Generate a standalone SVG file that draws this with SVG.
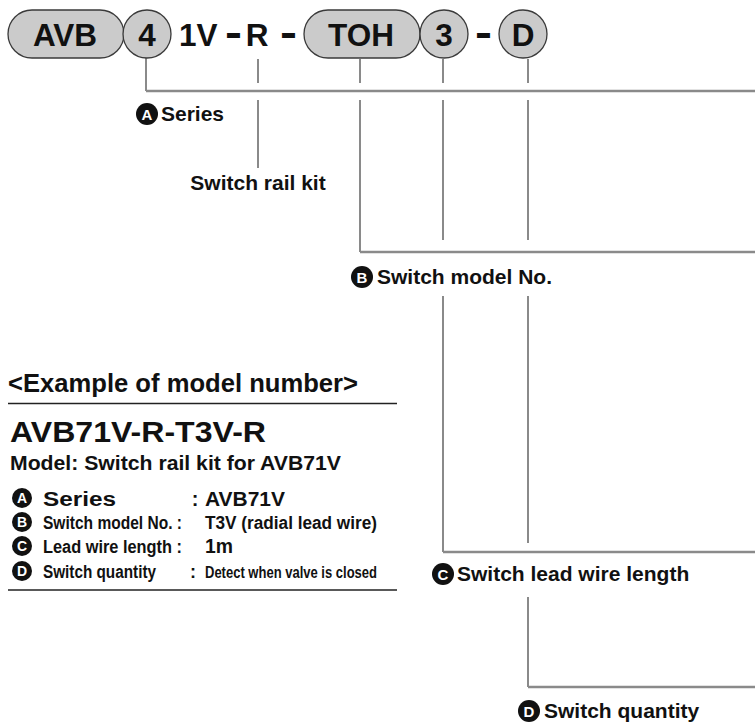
<svg xmlns="http://www.w3.org/2000/svg" width="755" height="722" viewBox="0 0 755 722">
<style>
.pill{fill:#cbcbcb;stroke:#3a3a3a;stroke-width:1.3}
.big{font-family:"Liberation Sans",Arial,sans-serif;font-weight:bold;font-size:31.5px;fill:#111}
.dash{font-family:"Liberation Sans",Arial,sans-serif;font-weight:bold;font-size:34px;fill:#111;text-anchor:middle}
.lbl{font-family:"Liberation Sans",Arial,sans-serif;font-weight:bold;font-size:21px;fill:#111}
.conn{fill:none;stroke:#8a8a8a;stroke-width:2}
.hz{fill:none;stroke:#8a8a8a;stroke-width:2.6}
.mk{fill:#111}
.mkt{font-family:"Liberation Sans",Arial,sans-serif;font-weight:bold;font-size:15px;fill:#fff;text-anchor:middle}
.mks{font-family:"Liberation Sans",Arial,sans-serif;font-weight:bold;font-size:14px;fill:#fff;text-anchor:middle}
.t{font-family:"Liberation Sans",Arial,sans-serif;font-weight:bold;fill:#111}
.rule{stroke:#222;stroke-width:1.5}
</style>

<g id="connectors">
  <path class="conn" d="M146,58 V91"/>
  <path class="hz" d="M146,91 H755"/>
  <path class="conn" d="M258,59 V83 M258,100 V168"/>
  <path class="conn" d="M360,59 V83 M360,100 V252"/>
  <path class="hz" d="M360,252 H755"/>
  <path class="conn" d="M443,59 V83 M443,100 V240 M443,296 V552"/>
  <path class="hz" d="M443,552 H755"/>
  <path class="conn" d="M528,59 V83 M528,100 V240 M528,296 V543 M528,597 V687"/>
  <path class="hz" d="M528,687 H755"/>
</g>

<g id="code-AVB">
  <rect class="pill" x="8" y="10" width="116" height="48" rx="24" ry="24"/>
  <text class="big" x="65" y="45.5" text-anchor="middle">AVB</text>
</g>
<g id="code-4">
  <circle class="pill" cx="147" cy="34" r="24"/>
  <text class="big" x="147" y="45.5" text-anchor="middle">4</text>
</g>
<g id="code-1V">
  <text class="big" x="179" y="45.5">1V</text>
  <text class="dash" transform="translate(233.5,46.5) scale(1.5,1.25)">-</text>
</g>
<g id="code-R">
  <text class="big" x="257" y="45.5" text-anchor="middle">R</text>
  <text class="dash" transform="translate(288.5,46.5) scale(1.5,1.25)">-</text>
</g>
<g id="code-TOH">
  <rect class="pill" x="304" y="10" width="116" height="48" rx="24" ry="24"/>
  <text class="big" x="361" y="45.5" text-anchor="middle">TOH</text>
</g>
<g id="code-3">
  <circle class="pill" cx="444" cy="34" r="24"/>
  <text class="big" x="444" y="45.5" text-anchor="middle">3</text>
  <text class="dash" transform="translate(483.5,46.5) scale(1.5,1.25)">-</text>
</g>
<g id="code-D">
  <circle class="pill" cx="523" cy="34" r="24"/>
  <text class="big" x="523" y="45.5" text-anchor="middle">D</text>
</g>

<g id="label-series">
  <circle class="mk" cx="147" cy="114" r="11"/>
  <text class="mkt" x="147" y="119.5">A</text>
  <text class="lbl" x="161" y="121">Series</text>
</g>
<g id="label-rail">
  <text class="lbl" x="258" y="190" text-anchor="middle">Switch rail kit</text>
</g>
<g id="label-model">
  <circle class="mk" cx="362" cy="277" r="11"/>
  <text class="mkt" x="362" y="282.5">B</text>
  <text class="lbl" x="377" y="284">Switch model No.</text>
</g>
<g id="label-lead">
  <circle class="mk" cx="443" cy="574" r="11"/>
  <text class="mkt" x="443" y="579.5">C</text>
  <text class="lbl" x="457" y="581">Switch lead wire length</text>
</g>
<g id="label-qty">
  <circle class="mk" cx="529" cy="711" r="11"/>
  <text class="mkt" x="529" y="716.5">D</text>
  <text class="lbl" x="544" y="718">Switch quantity</text>
</g>

<g id="example">
  <text class="t" x="8" y="392" font-size="26" textLength="350" lengthAdjust="spacingAndGlyphs">&lt;Example of model number&gt;</text>
  <line class="rule" x1="8" y1="403.5" x2="397" y2="403.5"/>
  <text class="t" x="10" y="442" font-size="29" textLength="256" lengthAdjust="spacingAndGlyphs">AVB71V-R-T3V-R</text>
  <text class="t" x="10" y="470" font-size="19.5" textLength="331" lengthAdjust="spacingAndGlyphs">Model: Switch rail kit for AVB71V</text>

  <circle class="mk" cx="22" cy="498" r="10"/>
  <text class="mks" x="22" y="503">A</text>
  <text class="t" x="43" y="505.5" font-size="20" textLength="73" lengthAdjust="spacingAndGlyphs">Series</text>
  <text class="t" x="195" y="505.5" font-size="20" text-anchor="middle">:</text>
  <text class="t" x="205" y="505.5" font-size="20" textLength="80" lengthAdjust="spacingAndGlyphs">AVB71V</text>

  <circle class="mk" cx="22" cy="522" r="10"/>
  <text class="mks" x="22" y="527">B</text>
  <text class="t" x="43" y="529" font-size="17.5" textLength="139" lengthAdjust="spacingAndGlyphs">Switch model No. :</text>
  <text class="t" x="205" y="529" font-size="17.5" textLength="172" lengthAdjust="spacingAndGlyphs">T3V (radial lead wire)</text>

  <circle class="mk" cx="22" cy="546" r="10"/>
  <text class="mks" x="22" y="551">C</text>
  <text class="t" x="43" y="553" font-size="17.5" textLength="139" lengthAdjust="spacingAndGlyphs">Lead wire length :</text>
  <text class="t" x="205" y="553" font-size="20" textLength="28" lengthAdjust="spacingAndGlyphs">1m</text>

  <circle class="mk" cx="22" cy="571" r="10"/>
  <text class="mks" x="22" y="576">D</text>
  <text class="t" x="43" y="578" font-size="17.5" textLength="113" lengthAdjust="spacingAndGlyphs">Switch quantity</text>
  <text class="t" x="193" y="578" font-size="18" text-anchor="middle">:</text>
  <text class="t" x="205" y="577.5" font-size="16" textLength="172" lengthAdjust="spacingAndGlyphs">Detect when valve is closed</text>

  <line class="rule" x1="8" y1="590" x2="397" y2="590"/>
</g>
</svg>
